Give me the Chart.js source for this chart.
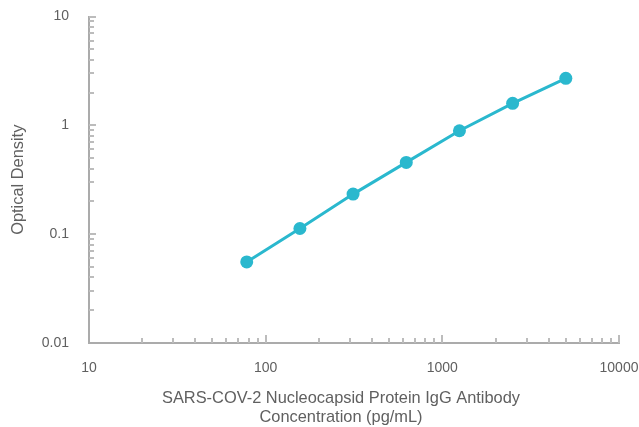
<!DOCTYPE html>
<html><head><meta charset="utf-8">
<script src="https://cdn.jsdelivr.net/npm/chart.js@4/dist/chart.umd.min.js"></script>
<style>html,body{margin:0;padding:0;background:#fff}#wrap{width:639px;height:427px}</style>
</head><body><div id="wrap"><canvas id="c" width="639" height="427"></canvas></div>
<script>
const concentrations = [78.125, 156.25, 312.5, 625, 1250, 2500, 5000];
const opticalDensity = [0.0556, 0.1128, 0.2334, 0.4566, 0.892, 1.594, 2.706];
const xTickLabels = [10, 100, 1000, 10000];
const yTickLabels = [0.01, 0.1, 1, 10];
const xTitle = ['SARS-COV-2 Nucleocapsid Protein IgG Antibody', 'Concentration (pg/mL)'];
const yTitle = 'Optical Density';

const FONT = '"Liberation Sans", Arial, sans-serif';
const TEXT = '#606060';
const AXIS = '#ababab';
const LINE = '#2AB8CE';

const innerTicks = {
  id: 'innerTicks',
  afterDraw(chart) {
    const ctx = chart.ctx, ca = chart.chartArea;
    const xs = chart.scales.x, ys = chart.scales.y;
    ctx.save();
    ctx.strokeStyle = '#bcbcbc';
    ctx.lineWidth = 2;
    const decadesX = xTickLabels.slice(0, -1);
    decadesX.forEach(d => {
      for (let m = 1; m <= 10; m++) {
        const v = d * m;
        if (v === xTickLabels[0]) continue;
        const px = Math.round(xs.getPixelForValue(v));
        const len = (m === 10) ? 8 : 5;
        ctx.beginPath(); ctx.moveTo(px, ca.bottom); ctx.lineTo(px, ca.bottom - len); ctx.stroke();
      }
    });
    const decadesY = yTickLabels.slice(0, -1);
    decadesY.forEach(d => {
      for (let m = 1; m <= 10; m++) {
        const v = d * m;
        if (Math.abs(v - yTickLabels[0]) < 1e-9) continue;
        const py = Math.round(ys.getPixelForValue(v));
        const len = (m === 10) ? 7 : 5;
        ctx.beginPath(); ctx.moveTo(ca.left, py); ctx.lineTo(ca.left + len, py); ctx.stroke();
      }
    });
    ctx.fillStyle = TEXT;
    ctx.font = '16.4px ' + FONT;
    ctx.textAlign = 'center';
    ctx.textBaseline = 'middle';
    ctx.fillText(xTitle[0], 341, 398);
    ctx.fillText(xTitle[1], 341, 417);
    ctx.translate(18, (ca.top + ca.bottom) / 2);
    ctx.rotate(-Math.PI / 2);
    ctx.fillText(yTitle, 0, 0);
    ctx.restore();
  }
};

new Chart(document.getElementById('c'), {
  type: 'scatter',
  data: {
    datasets: [{
      data: concentrations.map((c, i) => ({x: c, y: opticalDensity[i]})),
      showLine: true,
      borderColor: LINE,
      backgroundColor: LINE,
      borderWidth: 3,
      pointRadius: 6.5,
      pointHoverRadius: 6.5,
      pointBorderWidth: 0,
      tension: 0
    }]
  },
  options: {
    responsive: false,
    animation: false,
    devicePixelRatio: 1,
    layout: {padding: {left: 0, right: 20, top: 16.5, bottom: 0}},
    plugins: {legend: {display: false}, tooltip: {enabled: false}},
    scales: {
      x: {
        type: 'logarithmic', min: 10, max: 10000,
        afterBuildTicks: s => { s.ticks = xTickLabels.map(v => ({value: v})); },
        afterFit: s => { s.height = 84; s.paddingLeft = 0; s.paddingRight = 0; },
        grid: {display: false, drawTicks: false},
        border: {display: true, color: AXIS, width: 2},
        ticks: {autoSkip: false, maxRotation: 0, padding: 17, color: TEXT, font: {family: FONT, size: 14},
          callback: (v, i) => String(xTickLabels[i])}
      },
      y: {
        type: 'logarithmic', min: 0.01, max: 10,
        afterBuildTicks: s => { s.ticks = yTickLabels.map(v => ({value: v})); },
        afterFit: s => { s.width = 89; s.paddingTop = 0; s.paddingBottom = 0; },
        grid: {display: false, drawTicks: false},
        border: {display: true, color: AXIS, width: 2},
        ticks: {autoSkip: false, padding: 20, color: TEXT, font: {family: FONT, size: 14},
          callback: (v, i) => String(yTickLabels[i])}
      }
    }
  },
  plugins: [innerTicks]
});
</script></body></html>
